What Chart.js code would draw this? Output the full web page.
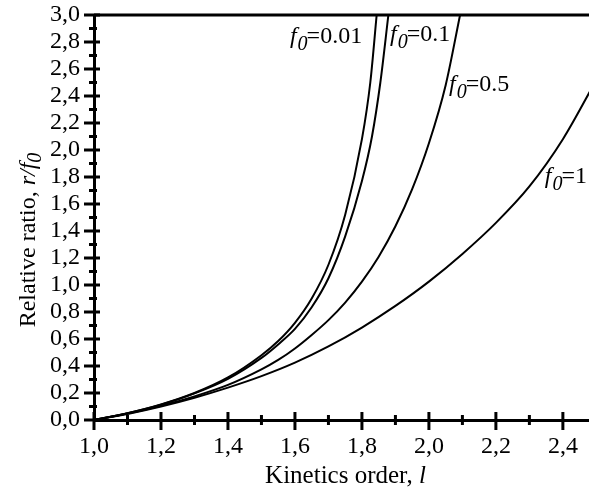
<!DOCTYPE html>
<html>
<head>
<meta charset="utf-8">
<script src="https://cdn.jsdelivr.net/npm/chart.js@4"></script>
<style>
  html, body { margin: 0; padding: 0; background: #fff; }
  #wrap { width: 589px; height: 491px; }
</style>
</head>
<body>
<div id="wrap"><canvas id="chart"></canvas></div>
<script>
// curve data (kinetics order l, relative ratio r/f0)
const order001 = [1.0, 1.1, 1.2, 1.3, 1.4, 1.5, 1.55, 1.6, 1.65, 1.7, 1.75, 1.8, 1.825, 1.844];
const ratio001 = [0, 0.05, 0.115, 0.2, 0.315, 0.48, 0.585, 0.72, 0.9, 1.15, 1.52, 2.08, 2.5, 3.0];

const order01 = [1.0, 1.1, 1.2, 1.3, 1.4, 1.5, 1.55, 1.6, 1.65, 1.7, 1.75, 1.8, 1.83, 1.855, 1.879];
const ratio01 = [0, 0.05, 0.113, 0.197, 0.305, 0.46, 0.56, 0.675, 0.835, 1.05, 1.36, 1.77, 2.1, 2.5, 3.0];

const order05 = [1.0, 1.1, 1.2, 1.3, 1.4, 1.5, 1.55, 1.6, 1.65, 1.7, 1.75, 1.8, 1.85, 1.9, 1.95, 2.0, 2.05, 2.093];
const ratio05 = [0, 0.048, 0.105, 0.175, 0.26, 0.375, 0.445, 0.53, 0.63, 0.74, 0.87, 1.025, 1.21, 1.435, 1.71, 2.05, 2.48, 3.0];

const order1 = [1.0, 1.1, 1.2, 1.3, 1.4, 1.5, 1.6, 1.7, 1.8, 1.9, 2.0, 2.1, 2.2, 2.3, 2.4, 2.5];
const ratio1 = [0, 0.045, 0.1, 0.165, 0.24, 0.325, 0.425, 0.545, 0.685, 0.845, 1.025, 1.23, 1.46, 1.73, 2.08, 2.52];

const curveNames = ['0.01', '0.1', '0.5', '1'];

// axis ranges / ticks
const xMin = 1.0, xMax = 2.478, xStep = 0.2;
const yMin = 0, yMax = 3.0, yStep = 0.2;

// where the curve labels sit, in data units (left edge, baseline)
const labelAnchors = [
  { name: '0.01', l: 1.585, r: 2.79 },
  { name: '0.1', l: 1.884, r: 2.81 },
  { name: '0.5', l: 2.06, r: 2.44 },
  { name: '1', l: 2.346, r: 1.755 }
];

const SERIF = '"Liberation Serif", "Times New Roman", serif';

function toPoints(xs, ys) {
  return xs.map((x, i) => ({ x: x, y: ys[i] }));
}

function commaFmt(v) {
  return v.toFixed(1).replace('.', ',');
}

// draws "f0=value" with italic f and subscript 0
function drawF0(ctx, x, y, value, size) {
  ctx.textAlign = 'left';
  ctx.textBaseline = 'alphabetic';
  ctx.font = 'italic ' + size + 'px ' + SERIF;
  ctx.fillText('f', x, y);
  x += ctx.measureText('f').width + 1;
  const sub = Math.round(size * 0.85);
  ctx.font = 'italic ' + sub + 'px ' + SERIF;
  ctx.fillText('0', x, y + 7);
  x += ctx.measureText('0').width - 1;
  ctx.font = size + 'px ' + SERIF;
  ctx.fillText('=' + value, x, y);
}

const decorPlugin = {
  id: 'decor',
  afterDatasetsDraw(chart) {
    const ctx = chart.ctx;
    const area = chart.chartArea;
    const xs = chart.scales.x;
    const ys = chart.scales.y;
    ctx.save();
    ctx.strokeStyle = '#000';
    ctx.fillStyle = '#000';
    ctx.lineWidth = 3;
    ctx.lineCap = 'butt';

    // top frame line
    ctx.beginPath();
    ctx.moveTo(area.left, area.top);
    ctx.lineTo(area.right, area.top);
    ctx.stroke();

    // y ticks crossing the axis
    for (let i = 0; i <= Math.round((yMax - yMin) / 0.1); i++) {
      const py = ys.getPixelForValue(yMin + i * 0.1);
      const major = i % 2 === 0;
      ctx.beginPath();
      ctx.moveTo(area.left - (major ? 10 : 5), py);
      ctx.lineTo(area.left + (major ? 6 : 3), py);
      ctx.stroke();
    }
    // x ticks crossing the axis
    for (let i = 0; xMin + i * 0.1 <= xMax; i++) {
      const px = xs.getPixelForValue(xMin + i * 0.1);
      const major = i % 2 === 0;
      ctx.beginPath();
      ctx.moveTo(px, area.bottom - (major ? 8 : 5));
      ctx.lineTo(px, area.bottom + (major ? 10 : 5));
      ctx.stroke();
    }

    // curve labels
    labelAnchors.forEach(a => {
      drawF0(ctx, xs.getPixelForValue(a.l), ys.getPixelForValue(a.r), a.name, 24);
    });

    // x axis title
    ctx.textBaseline = 'alphabetic';
    ctx.textAlign = 'left';
    const xa = 'Kinetics order, ';
    ctx.font = '25px ' + SERIF;
    const w1 = ctx.measureText(xa).width;
    ctx.font = 'italic 25px ' + SERIF;
    const w2 = ctx.measureText('l').width;
    let tx = (area.left + area.right) / 2 + 4 - (w1 + w2) / 2;
    ctx.font = '25px ' + SERIF;
    ctx.fillText(xa, tx, 483);
    ctx.font = 'italic 25px ' + SERIF;
    ctx.fillText('l', tx + w1, 483);

    // y axis title, rotated
    ctx.translate(35, 240);
    ctx.rotate(-Math.PI / 2);
    const ya = 'Relative ratio, ';
    ctx.font = '24px ' + SERIF;
    const v1 = ctx.measureText(ya).width;
    ctx.font = 'italic 24px ' + SERIF;
    const v2 = ctx.measureText('r/f').width;
    ctx.font = 'italic 20px ' + SERIF;
    const v3 = ctx.measureText('0').width;
    let ty = -(v1 + v2 + v3) / 2;
    ctx.font = '24px ' + SERIF;
    ctx.fillText(ya, ty, 0);
    ctx.font = 'italic 24px ' + SERIF;
    ctx.fillText('r/f', ty + v1, 0);
    ctx.font = 'italic 20px ' + SERIF;
    ctx.fillText('0', ty + v1 + v2, 6);

    ctx.restore();
  }
};

function lineSet(xs, ys, name) {
  return {
    label: 'f0=' + name,
    data: toPoints(xs, ys),
    showLine: true,
    borderColor: '#000',
    borderWidth: 2,
    pointRadius: 0,
    cubicInterpolationMode: 'monotone',
    fill: false
  };
}

const ctx = document.getElementById('chart').getContext('2d');
const chart = new Chart(ctx, {
  type: 'scatter',
  data: {
    datasets: [
      lineSet(order001, ratio001, curveNames[0]),
      lineSet(order01, ratio01, curveNames[1]),
      lineSet(order05, ratio05, curveNames[2]),
      lineSet(order1, ratio1, curveNames[3])
    ]
  },
  options: {
    responsive: true,
    maintainAspectRatio: false,
    animation: false,
    layout: { padding: { top: 15, right: 0, left: 0, bottom: 0 } },
    plugins: {
      legend: { display: false },
      tooltip: { enabled: false }
    },
    scales: {
      x: {
        type: 'linear',
        min: xMin,
        max: xMax,
        grid: { display: false, drawTicks: false },
        border: { display: true, color: '#000', width: 3 },
        ticks: {
          stepSize: xStep,
          includeBounds: false,
          autoSkip: false,
          padding: 12,
          color: '#000',
          font: { family: SERIF, size: 24 },
          maxRotation: 0,
          callback: v => commaFmt(v)
        },
        afterFit: scale => {
          scale.height = 71;
          scale.paddingLeft = 0;
          scale.paddingRight = 0;
        }
      },
      y: {
        type: 'linear',
        min: yMin,
        max: yMax,
        grid: { display: false, drawTicks: false },
        border: { display: true, color: '#000', width: 3 },
        ticks: {
          stepSize: yStep,
          autoSkip: false,
          padding: 14,
          color: '#000',
          font: { family: SERIF, size: 24 },
          callback: v => commaFmt(v)
        },
        afterFit: scale => {
          scale.width = 94;
          scale.paddingTop = 0;
          scale.paddingBottom = 0;
        }
      }
    }
  },
  plugins: [decorPlugin]
});
</script>
</body>
</html>
